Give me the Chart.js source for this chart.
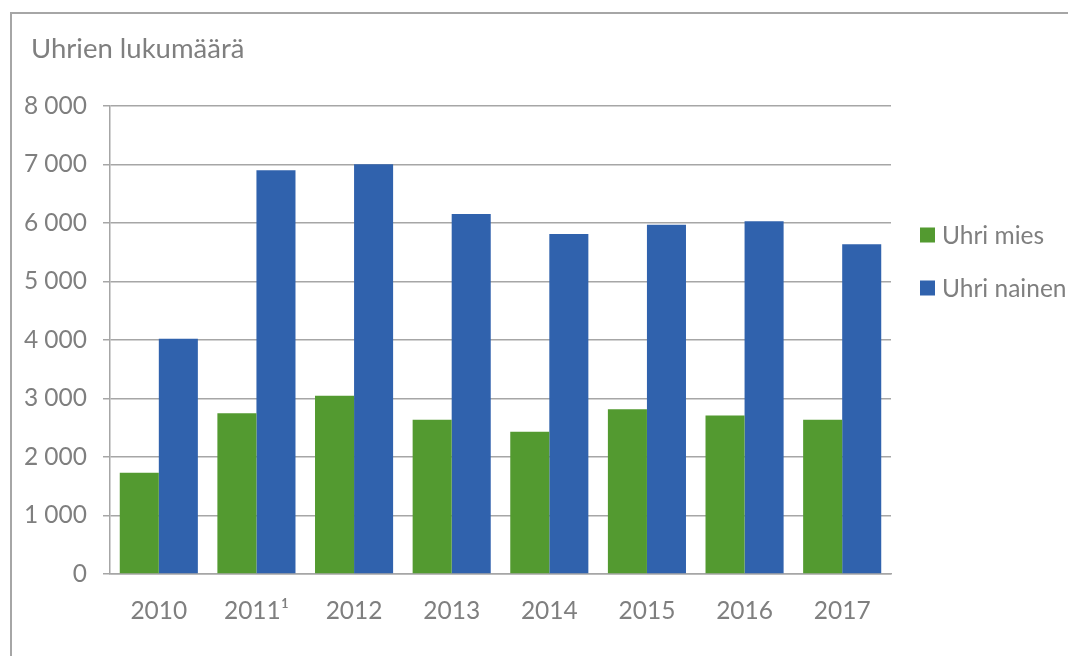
<!DOCTYPE html>
<html>
<head>
<meta charset="utf-8">
<script src="https://cdn.jsdelivr.net/npm/chart.js@4.4.1/dist/chart.umd.min.js"></script>
<style>
  html, body { margin: 0; padding: 0; background: #ffffff; }
  #wrap { position: relative; width: 1068px; height: 656px; overflow: hidden; }
  #frame { position: absolute; left: 10px; top: 12px; width: 1200px; height: 800px;
           border-left: 2px solid #a6a6a6; border-top: 2px solid #a6a6a6; box-sizing: border-box; }
  canvas { position: absolute; left: 0; top: 0; }
</style>
</head>
<body>
<div id="wrap">
  <div id="frame"></div>
  <canvas id="c" width="1068" height="656"></canvas>
</div>
<script>
const categories = ['2010', '2011\u00B9', '2012', '2013', '2014', '2015', '2016', '2017'];
const seriesNames = ['Uhri mies', 'Uhri nainen'];
const uhriMies = [1730, 2750, 3045, 2635, 2430, 2815, 2710, 2635];
const uhriNainen = [4020, 6900, 7005, 6155, 5810, 5970, 6030, 5635];
const yTickLabels = ['0', '1 000', '2 000', '3 000', '4 000', '5 000', '6 000', '7 000', '8 000'];
const titleText = 'Uhrien lukumäärä';

const textColor = '#7f7f7f';
const gridColor = '#a6a6a6';
const FONT = 'Lato, "Open Sans", sans-serif';

const decor = {
  id: 'decor',
  afterDraw(chart) {
    const ctx = chart.ctx;
    const area = chart.chartArea;
    ctx.save();
    // title
    ctx.font = '27.5px ' + FONT;
    ctx.textBaseline = 'middle';
    ctx.textAlign = 'left';
    ctx.fillStyle = textColor;
    ctx.fillText(titleText, 31, area.top - 57);
    // legend
    ctx.font = '24.5px ' + FONT;
    chart.data.datasets.forEach((ds, i) => {
      const cy = area.top + 129 + i * 53;
      const x = area.right + 29;
      ctx.fillStyle = ds.backgroundColor;
      ctx.fillRect(x, cy - 7.5, 15, 15);
      ctx.fillStyle = textColor;
      ctx.fillText(ds.label, x + 22, cy + 1);
    });
    ctx.restore();
  }
};

new Chart(document.getElementById('c'), {
  type: 'bar',
  data: {
    labels: categories,
    datasets: [
      { label: seriesNames[0], data: uhriMies, backgroundColor: '#539a30' },
      { label: seriesNames[1], data: uhriNainen, backgroundColor: '#3062ad' }
    ]
  },
  options: {
    responsive: false,
    animation: false,
    layout: { padding: { left: 0, right: 177, top: 106, bottom: 36 } },
    datasets: { bar: { categoryPercentage: 0.8, barPercentage: 1.0, borderWidth: 0 } },
    plugins: {
      legend: { display: false },
      tooltip: { enabled: false },
      title: { display: false }
    },
    scales: {
      x: {
        grid: { display: false, drawTicks: false },
        border: { display: true, color: gridColor, width: 1.5 },
        ticks: { color: textColor, font: { family: FONT, size: 24.5 }, padding: 22, maxRotation: 0 },
        afterFit(s) { s.height = 46; }
      },
      y: {
        min: 0, max: 8000,
        ticks: {
          stepSize: 1000, color: textColor, padding: 16,
          font: { family: FONT, size: 24.5 },
          callback: (v) => yTickLabels[Math.round(v / 1000)]
        },
        grid: { color: gridColor, lineWidth: 1.5, drawTicks: true, tickLength: 7 },
        border: { display: true, color: gridColor, width: 1.5 },
        afterFit(s) { s.width = 110; }
      }
    }
  },
  plugins: [decor]
});
</script>
</body>
</html>
